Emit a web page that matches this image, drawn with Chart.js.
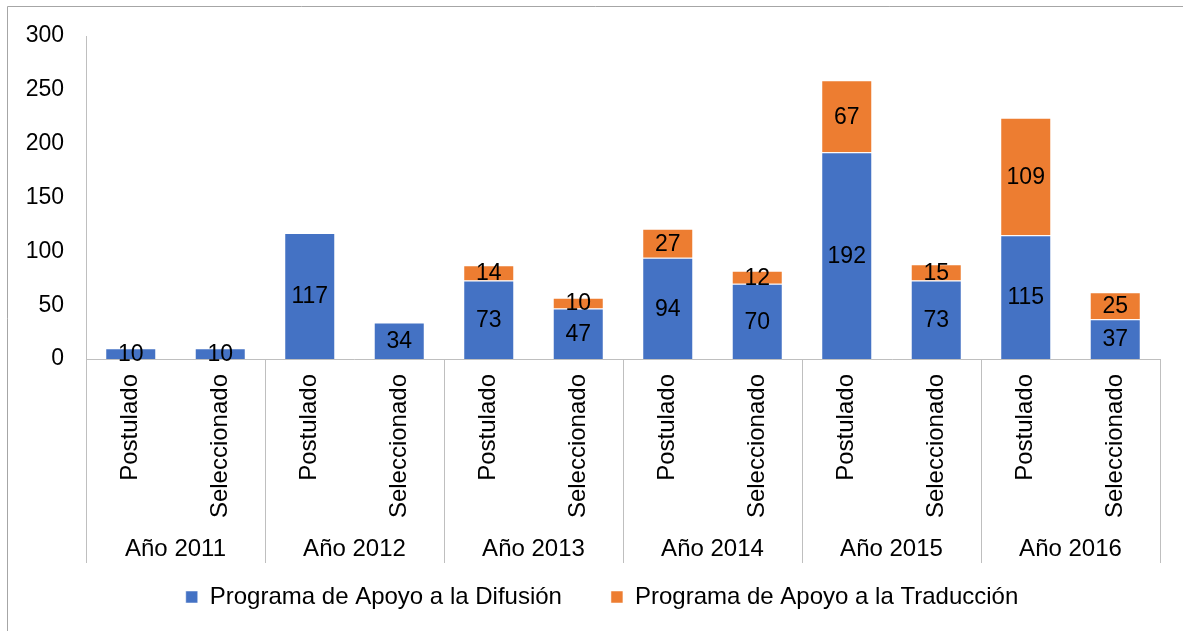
<!DOCTYPE html>
<html>
<head>
<meta charset="utf-8">
<script src="https://cdn.jsdelivr.net/npm/chart.js@4"></script>
<style>
  html, body { margin: 0; padding: 0; background: #fff; }
  #wrap { width: 1183px; height: 631px; position: relative; }
</style>
</head>
<body>
<div id="wrap"><canvas id="apoyo-chart" width="1183" height="631"></canvas></div>
<script>
var categories = ['Postulado', 'Seleccionado', 'Postulado', 'Seleccionado', 'Postulado', 'Seleccionado',
                  'Postulado', 'Seleccionado', 'Postulado', 'Seleccionado', 'Postulado', 'Seleccionado'];
var years = ['Año 2011', 'Año 2012', 'Año 2013', 'Año 2014', 'Año 2015', 'Año 2016'];
var difusion = [10, 10, 117, 34, 73, 47, 94, 70, 192, 73, 115, 37];
var traduccion = [null, null, null, null, 14, 10, 27, 12, 67, 15, 109, 25];
var yTicks = [0, 50, 100, 150, 200, 250, 300];

var FONT = '"Liberation Sans", Arial, sans-serif';
Chart.defaults.font.family = FONT;
Chart.defaults.color = '#000';

// value labels in the middle of each segment
var segmentLabels = {
    id: 'segmentLabels',
    afterDatasetsDraw: function(chart) {
        var ctx = chart.ctx;
        ctx.save();
        ctx.font = '23px ' + FONT;
        ctx.fillStyle = '#000';
        ctx.textAlign = 'center';
        ctx.textBaseline = 'middle';
        chart.data.datasets.forEach(function(ds, i) {
            chart.getDatasetMeta(i).data.forEach(function(bar, j) {
                if (ds.data[j] == null) return;
                ctx.fillText(ds.data[j], bar.x, (bar.y + bar.base) / 2 + 1);
            });
        });
        ctx.restore();
    }
};

// year groups under the category labels + frame
var yearGroups = {
    id: 'yearGroups',
    afterLayout: function(chart) {
        // nudge the legend a bit to the right
        chart.legend.left += 18;
    },
    afterDraw: function(chart) {
        var ctx = chart.ctx;
        var x = chart.scales.x;
        var bottom = chart.chartArea.bottom;
        var step = x.getPixelForValue(1) - x.getPixelForValue(0);
        ctx.save();
        ctx.strokeStyle = '#bfbfbf';
        ctx.lineWidth = 1;
        for (var g = 0; g <= years.length; g++) {
            var px = Math.round(x.getPixelForValue(g * 2) - step / 2) + 0.5;
            ctx.beginPath();
            ctx.moveTo(px, bottom);
            ctx.lineTo(px, bottom + 204);
            ctx.stroke();
        }
        ctx.font = '24px ' + FONT;
        ctx.fillStyle = '#000';
        ctx.textAlign = 'center';
        ctx.textBaseline = 'middle';
        years.forEach(function(y, g) {
            var cx = (x.getPixelForValue(g * 2) + x.getPixelForValue(g * 2 + 1)) / 2;
            ctx.fillText(y, cx, bottom + 190);
        });
        // outer frame (top and left edges only are visible)
        ctx.strokeStyle = '#a6a6a6';
        ctx.beginPath();
        ctx.moveTo(7.5, 631);
        ctx.lineTo(7.5, 6.5);
        ctx.lineTo(1183, 6.5);
        ctx.stroke();
        ctx.restore();
    }
};

new Chart(document.getElementById('apoyo-chart'), {
    type: 'bar',
    data: {
        labels: categories,
        datasets: [{
            label: 'Programa de Apoyo a la Difusión',
            data: difusion,
            backgroundColor: '#4472C4',
            borderColor: 'rgba(255,255,255,0.5)',
            borderWidth: 1
        }, {
            label: 'Programa de Apoyo a la Traducción',
            data: traduccion,
            backgroundColor: '#ED7D31',
            borderColor: 'rgba(255,255,255,0.5)',
            borderWidth: 1
        }]
    },
    options: {
        responsive: false,
        animation: false,
        devicePixelRatio: 1,
        layout: { padding: { left: 26, right: 23, top: 36, bottom: 12 } },
        datasets: { bar: { categoryPercentage: 1, barPercentage: 0.57 } },
        scales: {
            x: {
                stacked: true,
                grid: { display: false },
                border: { color: '#bfbfbf' },
                ticks: {
                    minRotation: 90, maxRotation: 90, autoSkip: false,
                    padding: 7,
                    font: { size: 24 }, color: '#000'
                },
                afterFit: function(s) { s.height = 177; }
            },
            y: {
                stacked: true,
                min: 0, max: 300,
                afterBuildTicks: function(s) { s.ticks = yTicks.map(function(v) { return { value: v }; }); },
                grid: { display: false, drawTicks: false },
                border: { color: '#bfbfbf' },
                ticks: { padding: 22, font: { size: 23 }, color: '#000' },
                afterFit: function(s) { s.width = 60; }
            }
        },
        plugins: {
            legend: {
                position: 'bottom',
                labels: { boxWidth: 12, boxHeight: 12, padding: 49, font: { size: 24 }, color: '#000' }
            },
            tooltip: { enabled: false }
        }
    },
    plugins: [segmentLabels, yearGroups]
});
</script>
</body>
</html>
